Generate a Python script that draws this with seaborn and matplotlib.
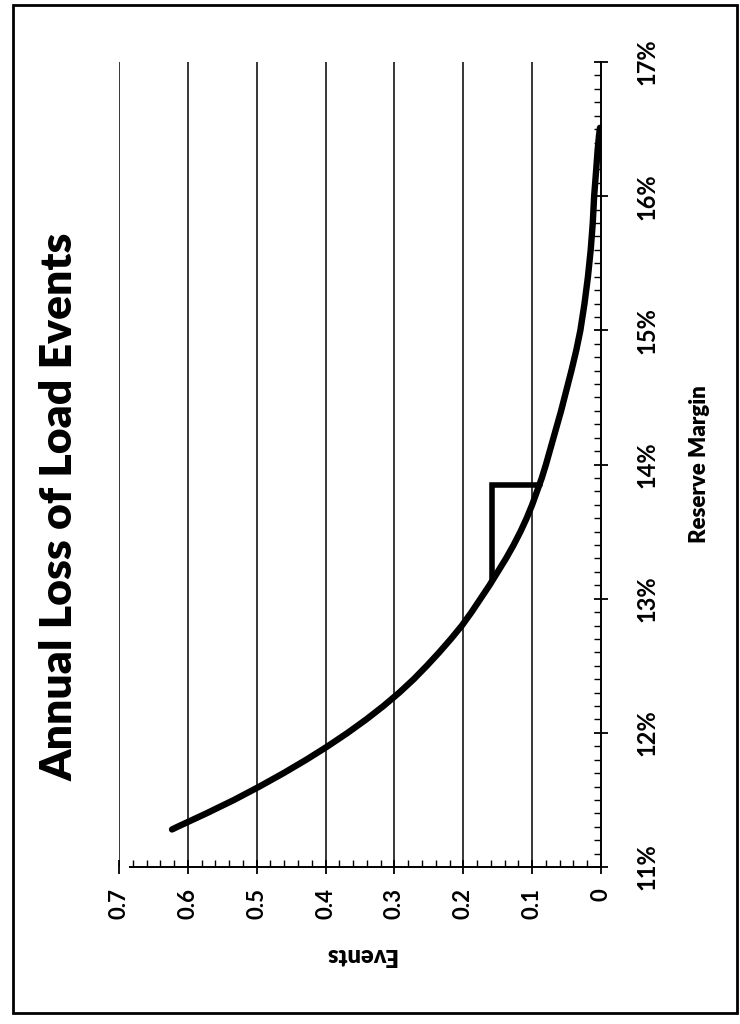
import matplotlib
matplotlib.use('Agg')
import matplotlib.pyplot as plt
from matplotlib.patches import Rectangle
from matplotlib.ticker import MultipleLocator
import seaborn as sns
import pandas as pd

# Data (reserve margin in %, annual LOLE events)
reserve_margin = [11.28, 11.3, 11.4, 11.5, 11.6, 11.7, 11.8, 11.9, 12.0, 12.1,
                  12.2, 12.3, 12.4, 12.5, 12.6, 12.7, 12.8, 12.9, 13.0, 13.1,
                  13.2, 13.3, 13.4, 13.5, 13.6, 13.7, 13.8, 13.9, 14.0, 14.2,
                  14.4, 14.5, 14.6, 14.7, 14.85, 15.0, 15.2, 15.4, 15.6, 15.8,
                  16.0, 16.2, 16.34, 16.45, 16.51]
events = [0.623, 0.615, 0.573, 0.533, 0.496, 0.461, 0.428, 0.397, 0.368, 0.341,
          0.316, 0.293, 0.272, 0.253, 0.235, 0.218, 0.202, 0.188, 0.175, 0.162,
          0.150, 0.138, 0.127, 0.117, 0.108, 0.100, 0.093, 0.086, 0.080, 0.069,
          0.058, 0.053, 0.048, 0.043, 0.036, 0.030, 0.024, 0.019, 0.015, 0.012,
          0.010, 0.007, 0.005, 0.003, 0.0015]

# target marker drawn on the chart (step from 13.14% up to 13.85%)
marker_margin = [13.14, 13.85, 13.85]
marker_events = [0.158, 0.158, 0.089]

event_ticks = [0, 0.1, 0.2, 0.3, 0.4, 0.5, 0.6, 0.7]
event_tick_labels = ['0', '0.1', '0.2', '0.3', '0.4', '0.5', '0.6', '0.7']
margin_ticks = [11, 12, 13, 14, 15, 16, 17]
margin_tick_labels = ['11%', '12%', '13%', '14%', '15%', '16%', '17%']

sns.set_theme(style='white')
plt.rcParams['font.family'] = ['Lato', 'DejaVu Sans']
plt.rcParams.update({'text.color': 'black', 'axes.labelcolor': 'black',
                     'xtick.color': 'black', 'ytick.color': 'black'})

df = pd.DataFrame({'Reserve Margin': reserve_margin, 'Events': events})

fig = plt.figure(figsize=(7.4, 10.24), dpi=100)
ax = fig.add_axes([0.1608, 0.1533, 0.6514, 0.7861])

# the chart is printed turned on its side: events run right-to-left, margin bottom-to-top
sns.lineplot(data=df, x='Events', y='Reserve Margin', sort=False, estimator=None,
             color='black', linewidth=4.6, ax=ax)
ax.lines[0].set_solid_joinstyle('round')
ax.plot(marker_events, marker_margin, color='black', linewidth=4.0,
        solid_joinstyle='miter')

ax.set_xlim(0.7, 0)
ax.set_ylim(11, 17)

for v in event_ticks[1:]:
    ax.axvline(v, color='black', linewidth=1.1, zorder=0)

ax.set_xticks(event_ticks)
ax.set_xticklabels(event_tick_labels, rotation=90, fontsize=16, fontweight='bold')
ax.xaxis.set_minor_locator(MultipleLocator(0.02))
ax.yaxis.tick_right()
ax.set_yticks(margin_ticks)
ax.set_yticklabels(margin_tick_labels, rotation=90, va='center', fontsize=17,
                   fontweight='bold')
ax.yaxis.set_minor_locator(MultipleLocator(0.1))

ax.tick_params(axis='x', which='major', direction='inout', length=10, width=1.3,
               bottom=True, pad=10)
ax.tick_params(axis='x', which='minor', direction='in', length=5, width=1.0, bottom=True)
ax.tick_params(axis='y', which='major', direction='inout', length=10, width=1.3,
               right=True, left=False, pad=20)
ax.tick_params(axis='y', which='minor', direction='in', length=5, width=1.0,
               right=True, left=False)

for side in ['top', 'left']:
    ax.spines[side].set_visible(False)
for side in ['bottom', 'right']:
    ax.spines[side].set_color('black')
    ax.spines[side].set_linewidth(1.4)
ax.spines['bottom'].set_bounds(0, 0.684)

ax.set_xlabel('Events', rotation=180, fontsize=17, fontweight='heavy', labelpad=18)
ax.yaxis.set_label_position('right')
ax.set_ylabel('Reserve Margin', rotation=90, fontsize=16, fontweight='heavy', labelpad=22)

fig.text(0.080, 0.505, 'Annual Loss of Load Events', rotation=90, ha='center',
         va='center', fontsize=32, fontweight='heavy')

# scanned page frame
fig.patches.append(Rectangle((13 / 740, 11 / 1024), 724 / 740, 1008 / 1024,
                             transform=fig.transFigure, fill=False,
                             edgecolor='black', linewidth=2.0))

fig.savefig('out.png', dpi=100)
